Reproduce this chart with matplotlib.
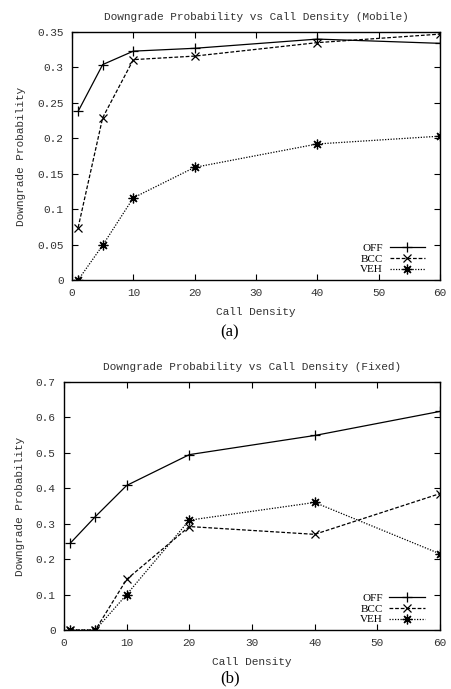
import matplotlib.pyplot as plt

# dados
densidade = [1, 5, 10, 20, 40, 60]

off_mobile = [0.238, 0.304, 0.323, 0.327, 0.340, 0.334]
bcc_mobile = [0.074, 0.229, 0.311, 0.316, 0.335, 0.347]
veh_mobile = [0.0, 0.049, 0.116, 0.159, 0.192, 0.203]

off_fixed = [0.245, 0.320, 0.408, 0.495, 0.549, 0.617]
bcc_fixed = [0.0, 0.0, 0.143, 0.292, 0.270, 0.385]
veh_fixed = [0.0, 0.0, 0.100, 0.310, 0.360, 0.215]

mono = 'Liberation Mono'
serif = 'Liberation Serif'


def desenha(ax, off, bcc, veh, titulo, yticks, ymax, ylabels):
    ax.plot(densidade, off, color='black', lw=0.9, ls='-', marker='+', ms=7, mew=0.9, label='OFF')
    ax.plot(densidade, bcc, color='black', lw=0.9, ls=(0, (3, 1.5)), marker='x', ms=6, mew=0.9, label='BCC')
    ax.plot(densidade, veh, color='black', lw=0.9, ls=(0, (1, 1.2)), marker=(8, 2, 0), ms=7, mew=0.9, label='VEH')

    ax.set_xlim(0, 60)
    ax.set_ylim(0, ymax)
    ax.set_xticks([0, 10, 20, 30, 40, 50, 60])
    ax.set_yticks(yticks)
    ax.set_yticklabels(ylabels)
    ax.tick_params(direction='in', top=True, right=True, length=4, width=0.8,
                   labelsize=8, colors='black', pad=6)
    for lbl in ax.get_xticklabels() + ax.get_yticklabels():
        lbl.set_fontfamily(mono)
        lbl.set_color('#333333')
    for s in ax.spines.values():
        s.set_linewidth(1.0)

    ax.set_title(titulo, fontsize=8, family=mono, color='#333333', pad=9)
    ax.set_xlabel('Call Density', fontsize=8, family=mono, color='#333333', labelpad=6)
    ax.set_ylabel('Downgrade Probability', fontsize=8, family=mono, color='#333333', labelpad=8)

    leg = ax.legend(loc='lower right', frameon=False, markerfirst=False, handlelength=3.2,
                    handletextpad=0.6, labelspacing=0.1, borderaxespad=0.3,
                    borderpad=0.2, bbox_to_anchor=(0.975, 0.0),
                    prop={'family': serif, 'size': 8})
    return leg


fig = plt.figure(figsize=(4.52, 6.89), dpi=100)

ax1 = fig.add_axes([72 / 452, 1 - 280 / 689, 368 / 452, 248 / 689])
desenha(ax1, off_mobile, bcc_mobile, veh_mobile,
        'Downgrade Probability vs Call Density (Mobile)',
        [0, 0.05, 0.1, 0.15, 0.2, 0.25, 0.3, 0.35], 0.35,
        ['0', '0.05', '0.1', '0.15', '0.2', '0.25', '0.3', '0.35'])

ax2 = fig.add_axes([64 / 452, 1 - 630 / 689, 376 / 452, 248 / 689])
desenha(ax2, off_fixed, bcc_fixed, veh_fixed,
        'Downgrade Probability vs Call Density (Fixed)',
        [0, 0.1, 0.2, 0.3, 0.4, 0.5, 0.6, 0.7], 0.7,
        ['0', '0.1', '0.2', '0.3', '0.4', '0.5', '0.6', '0.7'])

fig.text(230 / 452, 1 - 332 / 689, '(a)', ha='center', va='center', family=serif, fontsize=12)
fig.text(230 / 452, 1 - 678 / 689, '(b)', ha='center', va='center', family=serif, fontsize=12)

fig.savefig('out.png', dpi=100)
